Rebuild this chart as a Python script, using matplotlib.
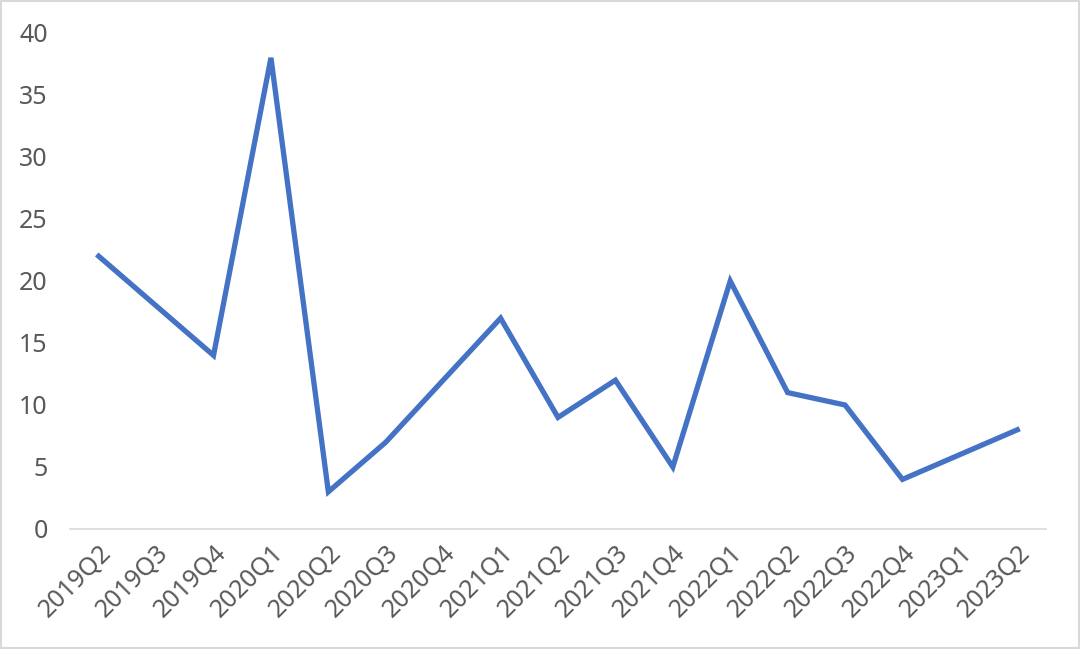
import matplotlib
matplotlib.use("Agg")
import matplotlib.pyplot as plt
import numpy as np

quarters = ["2019Q2", "2019Q3", "2019Q4", "2020Q1", "2020Q2", "2020Q3",
            "2020Q4", "2021Q1", "2021Q2", "2021Q3", "2021Q4", "2022Q1",
            "2022Q2", "2022Q3", "2022Q4", "2023Q1", "2023Q2"]
values = [22, 18, 14, 38, 3, 7, 12, 17, 9, 12, 5, 20, 11, 10, 4, 6, 8]

plt.rcParams['font.family'] = ['Noto Sans', 'DejaVu Sans']

fig = plt.figure(figsize=(10.8, 6.49), dpi=100)
ax = fig.add_axes([70 / 1080, 1 - 529 / 649, 976 / 1080, 496 / 649])

index = np.arange(len(quarters))
ax.plot(index, values, color="#4472C4", linewidth=3.8, solid_joinstyle="miter")

ax.set_xlim(-0.5, len(quarters) - 0.5)
ax.set_ylim(0, 40)
ax.set_yticks(np.arange(0, 41, 5))
ax.set_xticks(index)
ax.set_xticklabels(quarters, rotation=45, ha="right", rotation_mode="anchor")
ax.tick_params(axis="both", length=0, labelsize=18, labelcolor="#595959")
ax.tick_params(axis="y", pad=16)
ax.tick_params(axis="x", pad=8)

for side in ["top", "right", "left"]:
    ax.spines[side].set_visible(False)
ax.spines["bottom"].set_color("#D9D9D9")
ax.spines["bottom"].set_linewidth(1.2)

# light gray frame around the whole picture
fig.patches.append(plt.Rectangle((0.001, 0.002), 0.998, 0.996, transform=fig.transFigure,
                                 fill=False, edgecolor="#D9D9D9", linewidth=1.5))

fig.savefig("out.png", dpi=100)
